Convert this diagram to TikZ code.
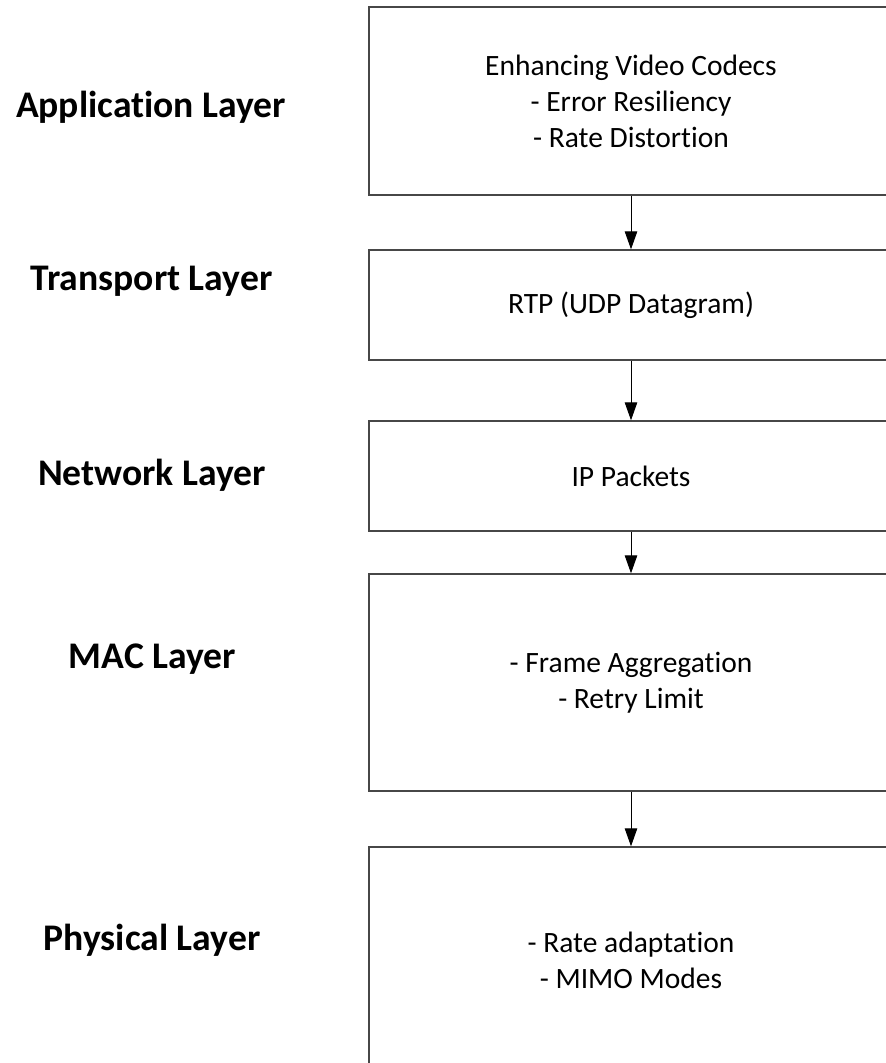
\documentclass[tikz,border=0pt]{standalone}
\usepackage{fontspec}
\setmainfont{Carlito}[Ligatures=NoCommon]
\usetikzlibrary{arrows.meta}
\tikzset{
  layerbox/.style={draw=black!72, line width=1.4pt, fill=white, minimum width=524pt,
    align=center, inner sep=0pt, font=\fontsize{29.5}{36}\selectfont},
  layername/.style={anchor=base, font=\fontsize{37.6}{44}\selectfont\bfseries},
  flow/.style={draw=black, line width=1pt, -{Triangle[length=18pt,width=12.5pt]}}
}
\begin{document}
\begin{tikzpicture}[x=1pt, y=-1pt]
  \useasboundingbox (0,0) rectangle (886,1063);
  \clip (0,0) rectangle (886,1063);
  \fill[white] (0,0) rectangle (886,1063);

  % protocol stack boxes
  \node[layerbox, minimum height=188pt] (app) at (631,101)
    {Enhancing Video Codecs\\- Error Resiliency\\- Rate Distortion};
  \node[layerbox, minimum height=110pt] (tra) at (631,305) {RTP (UDP Datagram)};
  \node[layerbox, minimum height=110pt] (net) at (631,476) {IP Packets};
  \node[layerbox, minimum height=217pt] (mac) at (631,682.5)
    {- Frame Aggregation\\- Retry Limit};
  \node[layerbox, minimum height=226pt] (phy) at (631,960)
    {- Rate adaptation\\- MIMO Modes};

  % layer names
  \node[layername] (lapp) at (151,117) {Application Layer};
  \node[layername] (ltra) at (151.5,290) {Transport Layer};
  \node[layername] (lnet) at (152,485) {Network Layer};
  \node[layername] (lmac) at (152.5,668) {MAC Layer};
  \node[layername] (lphy) at (152,950) {Physical Layer};

  % data flow down the stack
  \draw[flow] (app.south) -- (tra.north);
  \draw[flow] (tra.south) -- (net.north);
  \draw[flow] (net.south) -- (mac.north);
  \draw[flow] (mac.south) -- (phy.north);
\end{tikzpicture}
\end{document}
